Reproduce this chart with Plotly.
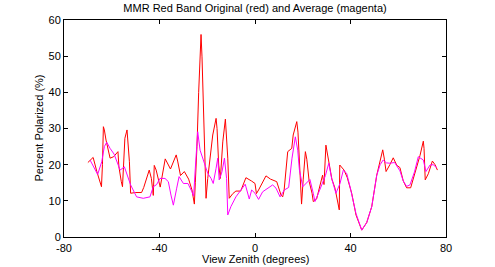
import plotly.graph_objects as go

red_x = [-70, -67.8, -66.2, -64.8, -64.3, -63.9, -63.5, -63.1, -62.4, -60.7, -59.2, -57.4, -57, -56, -55.5,
         -54.5, -53.6, -52.6, -52.1, -50, -47.5, -46.6, -44.3, -43.4, -42.6, -42.2, -41.4, -39.7, -37.6, -35.4,
         -33, -32.4, -31.2, -29.6, -27.8, -26.4, -25.4, -25, -24.3, -23.6, -23.2, -22.6, -22.2, -21.6, -20.9,
         -20.5, -19.8, -17.7, -16.3, -15.9, -15.2, -14.5, -13.5, -12.4, -11.4, -10.8, -9.3, -8, -6, -3.8,
         -1.5, 0, 0.6, 1.5, 4.6, 6.5, 9.1, 10.9, 11.6, 12.2, 13.7, 15.4, 16, 17.5, 18, 18.8, 19.5, 20.2, 21.1,
         21.7, 22.7, 23.9, 24.4, 25.8, 27.5, 28.3, 28.9, 29.7, 30.2, 31.1, 32.2, 33.5, 34.9, 35.3, 35.5, 37.3,
         38.6, 40.5, 42.3, 44.7, 46.8, 48.9, 51, 52.4, 53.5, 54.2, 54.9, 56.5, 57.9, 59.4, 60.7, 62.1, 63.5,
         65.2, 67.1, 69.1, 70.5, 70.8, 71.3, 72.6, 74.3, 75.4, 76.4]
red_y = [20.6, 22, 18, 15.3, 13.9, 20, 30.5, 29.6, 26.8, 21.8, 22.2, 23.6, 19.4, 15.3, 13.9,
         27.3, 29.6, 20.8, 12.1, 12.3, 12.3, 13.7, 18.5, 16.2, 11.5, 19.8, 18.5, 13.8, 21.6, 18.8,
         22.7, 21, 17, 18.1, 16, 13, 9.1, 15, 25, 40, 48, 56, 49.8, 34.6, 19,
         10.7, 16.2, 28.2, 32.8, 30, 19.9, 16.2, 26.3, 32.6, 21.8, 10.7, 12, 12.7, 12.7, 16.4,
         15.5, 14.8, 12, 13, 16.9, 16, 15.3, 11.6, 11.1, 13, 23.6, 24.5, 28.2, 31.9, 29, 19.4, 9.1, 16, 23.6,
         21.5, 15.3, 12.1, 9.8, 10.5, 14.5, 17.1, 14.5, 25.4, 23.5, 19.9, 16, 13.5, 8.4, 7.5, 19.9, 18.5,
         16.5, 12.1, 6.1, 1.9, 4, 8.4, 17.1, 20.8, 24.1, 21.5, 18.1, 20, 21.9, 19.8, 19.2, 15.5, 13.6,
         13.6, 17.9, 22.5, 26.5, 24.5, 15.8, 17.5, 21, 20, 18.5]

avg_x = [-69.1, -65.9, -64.2, -63.1, -62.1, -60.7, -59, -57.8, -56.5, -54.7, -53.5, -52.1, -49.6, -46.8, -44,
         -42.6, -41.2, -39.8, -37.7, -36.3, -35.2, -34.2, -32.8, -31.8, -30, -28.1, -26.4, -25.7, -25, -24.3,
         -24, -23, -21.9, -20.8, -19.8, -18.4, -17.5, -16.3, -15.6, -15, -13.8, -12.8, -11.9, -11.4, -10.1,
         -8, -5.2, -4.1, -2.4, -1.4, 0, 1.5, 3.2, 7.4, 8.8, 10.5, 12.3, 14.1, 15.5, 16.9, 17.9, 18.6, 20,
         21.4, 23, 24.4, 25.1, 26.5, 27.9, 29.5, 30.9, 32.1, 33.9, 35.6, 37, 38.4, 39.8, 42.3, 44.7, 46.8,
         48.9, 51, 52.4, 53.7, 55, 56.5, 58.5, 60.7, 62.1, 63.5, 64.9, 66.8, 68.4, 70.5, 71.6, 73.3, 74.6, 76.1]
avg_y = [21.3, 17.3, 20.8, 25, 26.2, 24.5, 22.9, 21, 18.5, 19.4, 17, 14.4, 11.1, 10.7, 11.1,
         13.9, 14.5, 16.2, 16.2, 15.3, 11.6, 8.8, 13.5, 16.7, 14.8, 14.8, 12.5, 11.3, 19, 28.2,
         29.1, 24, 21.8, 19, 17.6, 16.2, 14.8, 19, 21.8, 15.8, 18.1, 21.8, 16.2, 6.1, 8.4,
         11.1, 13.5, 14.6, 10.5, 13, 12.1, 10.4, 12.5, 14.4, 13.5, 11.1, 13, 13.7, 21.8, 27.7, 24, 18.5, 13.9,
         14.8, 15.9, 12.1, 9.8, 12, 14.4, 17, 20.4, 16.2, 12.1, 14.8, 18.5, 17.6, 13.9, 6.5, 1.9, 4,
         8.4, 17.1, 20, 21.3, 20.5, 20.4, 20.6, 18.3, 15.5, 14, 14.4, 18, 22.2, 21.3, 18.1, 19.9, 20, 19.2]

x_ticks = [-80, -40, 0, 40, 80]
y_ticks = [0, 10, 20, 30, 40, 50, 60]

fig = go.Figure()
fig.add_trace(go.Scatter(x=red_x, y=red_y, mode="lines", line=dict(color="#ff0000", width=1), showlegend=False))
fig.add_trace(go.Scatter(x=avg_x, y=avg_y, mode="lines", line=dict(color="#ff00ff", width=1), showlegend=False))

font = dict(family="Liberation Sans, Arial, sans-serif", size=11, color="black")
axis_common = dict(showgrid=False, zeroline=False, showline=True, linecolor="black", linewidth=1,
                   mirror="ticks", ticks="inside", ticklen=4, tickcolor="black", tickfont=font)
fig.update_xaxes(range=[-80, 80], tickvals=x_ticks, ticktext=[str(v) for v in x_ticks],
                 ticklabelstandoff=1, **axis_common)
fig.update_yaxes(range=[0, 60], tickvals=y_ticks, ticktext=[str(v) for v in y_ticks], **axis_common)

fig.update_layout(
    width=495, height=267, margin=dict(l=64, r=49, t=20, b=30),
    paper_bgcolor="white", plot_bgcolor="white", font=font,
    title=dict(text="MMR Red Band Original (red) and Average (magenta)", x=0.5, xref="paper",
               y=1 - 8 / 267, yref="container", yanchor="middle", font=font),
    annotations=[
        dict(text="View Zenith (degrees)", x=0.5, xref="paper", y=-22 / 217, yref="paper",
             yanchor="middle", showarrow=False, font=font),
        dict(text="Percent Polarized (%)", x=-26 / 382, xref="paper", y=0.5, yref="paper",
             xanchor="center", yanchor="middle", textangle=-90, showarrow=False, font=font),
    ],
)
fig.write_html("out.html")
